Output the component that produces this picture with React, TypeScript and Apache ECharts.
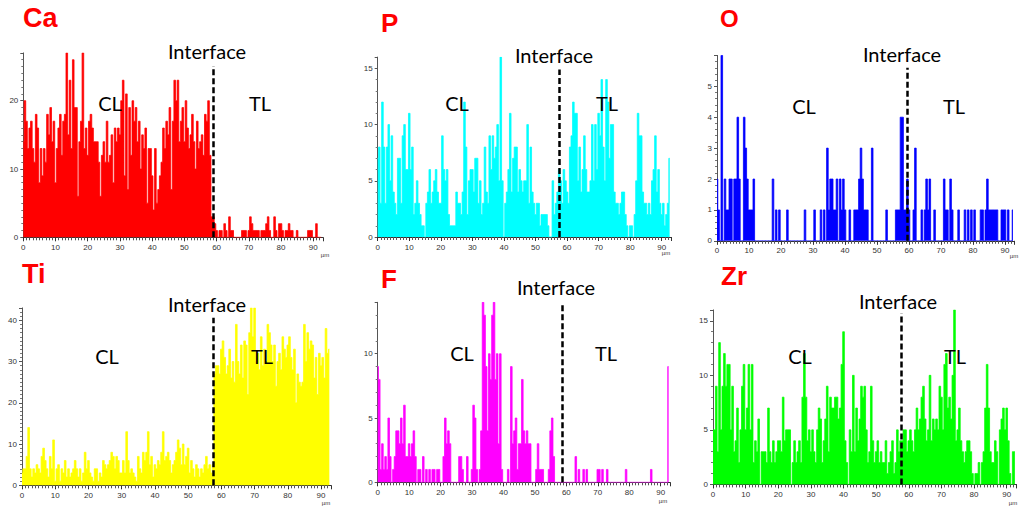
import React, { useEffect, useRef } from "react";
import * as echarts from "echarts";

// Distance between two consecutive readings along the line scan (µm)
const STEP_UM = 0.5;

// Counts, one value every 0.5 µm from 0 µm
const CA_COUNTS = [
  14, 20, 17, 13, 16, 17, 13, 11, 18, 16, 8, 13, 9, 13, 11, 18, 15, 19, 14, 17,
  8, 13, 16, 18, 12, 17, 18, 27, 15, 23, 13, 26, 19, 19, 6, 14, 17, 27, 13, 16,
  12, 17, 18, 16, 14, 14, 14, 11, 6, 12, 14, 11, 17, 11, 12, 15, 8, 16, 14, 16,
  15, 20, 23, 9, 21, 7, 19, 12, 20, 17, 19, 14, 17, 10, 15, 13, 16, 5, 13, 13,
  9, 4, 13, 5, 7, 9, 11, 16, 13, 17, 15, 19, 7, 17, 23, 20, 23, 14, 17, 19,
  14, 20, 16, 13, 15, 18, 14, 10, 17, 13, 14, 15, 12, 18, 17, 20, 12, 3, 3, 2,
  1, 0, 1, 1, 0, 2, 1, 0, 3, 1, 1, 0, 0, 0, 0, 0, 1, 1, 1, 0,
  1, 3, 2, 1, 1, 1, 1, 0, 1, 1, 1, 2, 3, 1, 0, 0, 3, 1, 0, 2,
  2, 1, 0, 1, 1, 2, 1, 1, 0, 0, 1, 0, 0, 0, 0, 0, 0, 1, 1, 1,
  0, 0, 2, 0, 0, 0,
];

const P_COUNTS = [
  7, 8, 3, 12, 8, 3, 8, 10, 5, 9, 4, 3, 2, 7, 7, 3, 9, 10, 6, 6,
  11, 6, 8, 2, 3, 5, 3, 2, 1, 1, 0, 3, 4, 6, 3, 4, 5, 6, 4, 3,
  3, 9, 6, 5, 6, 2, 1, 1, 1, 1, 4, 3, 3, 2, 4, 12, 8, 2, 5, 6,
  6, 4, 7, 7, 3, 5, 2, 3, 8, 4, 3, 9, 6, 9, 7, 8, 10, 5, 16, 5,
  0, 3, 4, 6, 11, 4, 7, 8, 8, 4, 6, 5, 4, 5, 5, 10, 3, 8, 4, 3,
  2, 3, 3, 1, 2, 2, 2, 2, 1, 0, 0, 5, 2, 3, 4, 6, 5, 3, 6, 5,
  4, 3, 8, 9, 12, 11, 11, 5, 8, 4, 6, 9, 6, 4, 4, 5, 10, 5, 10, 6,
  11, 9, 14, 8, 5, 14, 12, 7, 10, 10, 4, 3, 3, 2, 3, 4, 4, 2, 1, 0,
  1, 1, 0, 2, 5, 11, 9, 9, 4, 3, 3, 2, 3, 2, 5, 6, 9, 4, 6, 3,
  2, 3, 1, 2, 3, 7,
];

const O_COUNTS = [
  2, 1, 0, 6, 0, 2, 1, 1, 2, 2, 0, 2, 2, 4, 2, 0, 0, 4, 3, 2,
  1, 1, 1, 2, 0, 0, 0, 0, 0, 0, 0, 0, 0, 0, 0, 2, 0, 1, 0, 1,
  0, 0, 0, 0, 1, 0, 0, 0, 0, 0, 0, 0, 0, 0, 0, 1, 0, 0, 0, 0,
  0, 1, 0, 0, 0, 1, 0, 1, 0, 3, 1, 2, 2, 1, 1, 2, 0, 2, 1, 2,
  1, 0, 0, 1, 0, 0, 1, 1, 1, 2, 3, 2, 1, 1, 1, 0, 0, 3, 0, 0,
  0, 0, 0, 0, 0, 0, 1, 0, 0, 0, 0, 0, 1, 1, 1, 4, 4, 1, 1, 2,
  1, 0, 0, 1, 3, 0, 0, 0, 1, 0, 1, 2, 1, 2, 0, 0, 1, 0, 0, 0,
  0, 0, 2, 1, 1, 0, 2, 1, 0, 0, 0, 1, 0, 0, 0, 1, 0, 1, 0, 1,
  0, 1, 0, 0, 0, 1, 1, 0, 1, 2, 1, 1, 1, 1, 1, 1, 0, 0, 1, 1,
  1, 0, 1, 0, 0, 1,
];

const TI_COUNTS = [
  3, 4, 4, 7, 14, 4, 2, 4, 3, 5, 4, 3, 7, 9, 6, 4, 2, 7, 4, 11,
  1, 4, 5, 1, 4, 3, 6, 2, 4, 2, 3, 4, 6, 4, 2, 4, 1, 3, 8, 4,
  6, 3, 2, 1, 4, 4, 1, 3, 2, 6, 5, 4, 5, 6, 8, 7, 4, 7, 6, 3,
  3, 6, 3, 13, 6, 3, 4, 3, 2, 1, 7, 4, 3, 8, 6, 8, 13, 5, 7, 2,
  5, 4, 6, 5, 8, 13, 6, 7, 8, 6, 3, 5, 6, 8, 11, 9, 5, 10, 5, 7,
  9, 3, 6, 4, 2, 5, 4, 2, 4, 3, 5, 7, 4, 5, 3, 5, 27, 29, 29, 27,
  33, 35, 31, 27, 29, 33, 26, 30, 25, 39, 30, 27, 34, 26, 35, 34, 22, 37, 43, 36,
  43, 30, 32, 28, 36, 29, 33, 30, 39, 37, 34, 30, 34, 24, 30, 32, 28, 36, 33, 31,
  34, 36, 31, 28, 33, 20, 27, 25, 24, 25, 39, 30, 37, 33, 35, 34, 26, 31, 22, 32,
  29, 31, 26, 38, 32, 33,
];

const F_COUNTS = [
  9, 8, 1, 3, 1, 2, 1, 5, 2, 0, 1, 2, 4, 4, 3, 5, 3, 6, 2, 2,
  3, 2, 3, 4, 2, 0, 1, 1, 0, 2, 0, 1, 0, 1, 0, 1, 1, 0, 1, 1,
  0, 0, 2, 5, 3, 4, 3, 0, 0, 0, 0, 0, 2, 2, 1, 0, 0, 2, 0, 0,
  1, 6, 5, 1, 0, 1, 4, 14, 13, 9, 4, 10, 8, 13, 14, 8, 10, 3, 10, 1,
  0, 0, 0, 1, 0, 9, 3, 4, 5, 1, 3, 3, 8, 4, 3, 4, 3, 3, 0, 0,
  0, 1, 3, 1, 1, 1, 0, 0, 0, 1, 4, 5, 2, 0, 0, 0, 0, 0, 0, 0,
  0, 0, 0, 0, 0, 0, 2, 0, 1, 0, 0, 1, 0, 1, 0, 0, 0, 0, 0, 0,
  1, 1, 0, 1, 0, 0, 1, 0, 0, 0, 0, 0, 0, 0, 0, 0, 0, 0, 1, 0,
  0, 0, 0, 0, 0, 0, 0, 0, 0, 0, 0, 0, 0, 0, 1, 0, 0, 0, 0, 0,
  0, 0, 0, 0, 0, 9,
];

const ZR_COUNTS = [
  5, 5, 9, 3, 13, 5, 9, 12, 9, 11, 11, 5, 9, 3, 4, 7, 2, 5, 9, 11,
  5, 7, 11, 5, 11, 2, 4, 3, 6, 0, 3, 3, 3, 2, 7, 3, 2, 4, 2, 3,
  4, 4, 3, 8, 4, 5, 5, 5, 0, 2, 4, 2, 3, 4, 2, 8, 12, 8, 4, 5,
  3, 5, 3, 2, 5, 7, 6, 2, 4, 6, 9, 3, 8, 7, 7, 8, 8, 6, 7, 11,
  14, 4, 2, 0, 5, 3, 10, 3, 7, 4, 6, 9, 8, 9, 5, 2, 3, 9, 4, 2,
  3, 4, 2, 3, 2, 2, 4, 1, 2, 3, 4, 1, 2, 5, 3, 4, 4, 5, 5, 3,
  4, 5, 4, 3, 5, 7, 5, 6, 8, 9, 6, 4, 5, 10, 4, 6, 5, 6, 5, 9,
  8, 5, 11, 12, 7, 8, 6, 10, 16, 4, 5, 7, 4, 3, 2, 3, 4, 4, 3, 1,
  0, 1, 1, 2, 0, 2, 3, 7, 11, 7, 3, 2, 2, 4, 3, 0, 5, 6, 7, 5,
  7, 4, 1, 0, 3, 3,
];

// Position of the interface (µm) and height reached by its dashed marker (counts)
const INTERFACE_UM = [59.0, 57.4, 59.6, 57.5, 58.6, 57.6];
const INTERFACE_TOP = [25.1, 14.9, 5.6, 40.6, 14, 15.7];

// Axis ranges
const X_MAX = 93;
const X_TICKS = [0, 10, 20, 30, 40, 50, 60, 70, 80, 90];
const Y_MAX = [27, 16, 6, 43, 14, 16];

const ELEMENTS = ["Ca", "P", "O", "Ti", "F", "Zr"];
const SERIES_VALUES = [CA_COUNTS, P_COUNTS, O_COUNTS, TI_COUNTS, F_COUNTS, ZR_COUNTS];
const COLORS = ["#ff0000", "#00ffff", "#0000ff", "#ffff00", "#ff00ff", "#00ff00"];

// Layout of each panel (pixels)
const LAYOUT = [
  { left: 23.3, top: 52.9, width: 299.6, height: 184.4, yInterval: 10, yMinor: 10,
    title: [23, 18, 27], iface: [207, 51], cl: [110, 103], tl: [260, 103], um: [325, 255] },
  { left: 377.7, top: 57.1, width: 293.5, height: 179.9, yInterval: 5, yMinor: 5,
    title: [381, 22.5, 26], iface: [554, 55], cl: [457, 103], tl: [607, 103], um: [666, 253] },
  { left: 717, top: 55.4, width: 297.6, height: 185.4, yInterval: 1, yMinor: 5,
    title: [720, 18.5, 24], iface: [902, 54], cl: [804, 106], tl: [954, 106], um: [1014, 256] },
  { left: 22, top: 307.9, width: 309, height: 177.4, yInterval: 10, yMinor: 10,
    title: [22, 274, 27], iface: [207, 304], cl: [107, 356], tl: [262, 356], um: [326, 503] },
  { left: 377.7, top: 302.3, width: 292.4, height: 180, yInterval: 5, yMinor: 5,
    title: [381, 278.5, 26], iface: [556, 287], cl: [462, 353], tl: [606, 353], um: [663, 501] },
  { left: 713, top: 309.9, width: 303.5, height: 174.5, yInterval: 5, yMinor: 5,
    title: [721, 276, 26], iface: [898, 301], cl: [800, 356], tl: [955, 356], um: [1013, 503] },
];

const AXIS_COLOR = "#333333";
const LABEL_FONT = "Liberation Sans";
const NOTE_FONT = "Lato";

function buildOption() {
  const grid: any[] = [];
  const xAxis: any[] = [];
  const yAxis: any[] = [];
  const series: any[] = [];
  const graphic: any[] = [];

  ELEMENTS.forEach((el, i) => {
    const L = LAYOUT[i];
    grid.push({ left: L.left, top: L.top, width: L.width, height: L.height, containLabel: false });
    xAxis.push({
      type: "value",
      gridIndex: i,
      min: 0,
      max: X_MAX,
      interval: X_TICKS[1] - X_TICKS[0],
      axisLine: { show: true, lineStyle: { color: AXIS_COLOR, width: 1 } },
      axisTick: { show: true, length: 4, lineStyle: { color: AXIS_COLOR } },
      minorTick: { show: true, splitNumber: 10, length: 3, lineStyle: { color: "#555" } },
      axisLabel: { show: true, fontSize: 8, color: AXIS_COLOR, margin: 6, fontFamily: LABEL_FONT, showMaxLabel: false },
      splitLine: { show: false },
    });
    yAxis.push({
      type: "value",
      gridIndex: i,
      min: 0,
      max: Y_MAX[i],
      interval: L.yInterval,
      axisLine: { show: true, lineStyle: { color: "#555", width: 1 } },
      axisTick: { show: true, length: 3, lineStyle: { color: "#555" } },
      minorTick: { show: true, splitNumber: L.yMinor, length: 2, lineStyle: { color: "#777" } },
      axisLabel: {
        show: true,
        fontSize: 8,
        color: AXIS_COLOR,
        margin: 5,
        fontFamily: LABEL_FONT,
        showMaxLabel: false,
      },
      splitLine: { show: false },
    });
    series.push({
      type: "line",
      xAxisIndex: i,
      yAxisIndex: i,
      step: "middle",
      symbol: "none",
      z: 2,
      data: SERIES_VALUES[i].map((v, k) => [k * STEP_UM, v]),
      lineStyle: { color: COLORS[i], width: 0.8 },
      itemStyle: { color: COLORS[i] },
      areaStyle: { color: COLORS[i], opacity: 1 },
      markLine: {
        silent: true,
        symbol: ["none", "none"],
        label: { show: false },
        lineStyle: { color: "#000000", type: [6, 3], width: 2.5 },
        data: [[{ coord: [INTERFACE_UM[i], 0] }, { coord: [INTERFACE_UM[i], INTERFACE_TOP[i]] }]],
      },
    });

    const [tx, ty, ts] = L.title;
    graphic.push({
      type: "text",
      x: tx,
      y: ty,
      z: 100,
      style: {
        text: el,
        fill: "#ff0000",
        fontSize: ts,
        fontWeight: "bold",
        fontFamily: LABEL_FONT,
        textAlign: "left",
        textVerticalAlign: "middle",
        align: "left",
        verticalAlign: "middle",
      },
    });
    const note = (txt: string, p: number[]) => ({
      type: "text",
      x: p[0],
      y: p[1],
      z: 100,
      style: {
        text: txt,
        fill: "#000000",
        fontSize: 20,
        fontFamily: NOTE_FONT,
        textAlign: "center",
        textVerticalAlign: "middle",
        align: "center",
        verticalAlign: "middle",
      },
    });
    graphic.push(note("Interface", L.iface));
    graphic.push(note("CL", L.cl));
    graphic.push(note("TL", L.tl));
    graphic.push({
      type: "text",
      x: L.um[0],
      y: L.um[1],
      z: 100,
      style: {
        text: "µm",
        fill: AXIS_COLOR,
        fontSize: 6,
        fontFamily: LABEL_FONT,
        textAlign: "center",
        textVerticalAlign: "middle",
        align: "center",
        verticalAlign: "middle",
      },
    });
  });

  return {
    animation: false,
    backgroundColor: "#ffffff",
    textStyle: { fontFamily: LABEL_FONT },
    grid,
    xAxis,
    yAxis,
    series,
    graphic,
  };
}

export default function App() {
  const ref = useRef<HTMLDivElement>(null);
  useEffect(() => {
    if (!ref.current) return;
    const chart = echarts.init(ref.current, null, { renderer: "svg" });
    chart.setOption(buildOption() as any);
    return () => chart.dispose();
  }, []);
  return (
    <div
      ref={ref}
      style={{ position: "fixed", left: 0, top: 0, width: 1024, height: 513, background: "#ffffff" }}
    />
  );
}
